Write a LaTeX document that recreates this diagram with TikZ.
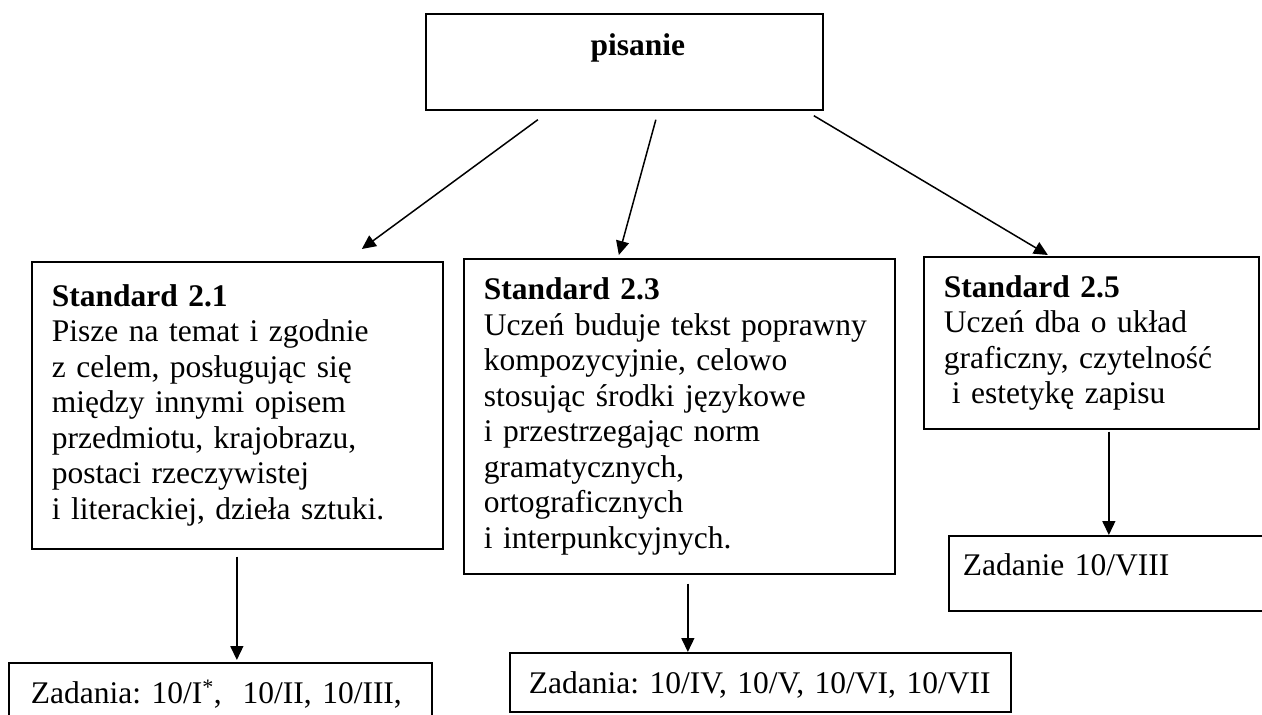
\documentclass[tikz,border=0pt]{standalone}
\usepackage{fontspec}
\setmainfont{Liberation Serif}
\usetikzlibrary{arrows.meta}
\frenchspacing
\begin{document}
\begin{tikzpicture}[x=1pt,y=-1pt,
  box/.style={draw, line width=1.7pt, anchor=north west, inner ysep=0pt, inner xsep=0pt, align=left,
    font=\fontsize{31.5}{35.5}\selectfont},
  arr/.style={line width=1.5pt, -{Triangle[length=14pt,width=13pt]}}]
\useasboundingbox (0,0) rectangle (1262,715);
\clip (0,0) rectangle (1262,715);
\node[box, minimum width=397pt, minimum height=96pt, text width=397pt, align=center, text height=42pt, text depth=54pt] (top) at (425,13) {\hspace*{27pt}\textbf{pisanie}};
\node[box, minimum width=411pt, minimum height=287pt, inner xsep=20pt, text width=371pt] (b1) at (31,261)
  {\textbf{Standard 2.1}\\Pisze na temat i zgodnie\\z celem, posługując się\\między innymi opisem\\przedmiotu, krajobrazu,\\postaci rzeczywistej\\i literackiej, dzieła sztuki.};
\node[box, minimum width=431pt, minimum height=315pt, inner xsep=20pt, text width=391pt] (b2) at (463,258)
  {\textbf{Standard 2.3}\\Uczeń buduje tekst poprawny\\kompozycyjnie, celowo\\stosując środki językowe\\i przestrzegając norm\\gramatycznych,\\ortograficznych\\i interpunkcyjnych.};
\node[box, minimum width=335pt, minimum height=172pt, inner xsep=20pt, text width=295pt] (b3) at (923,256)
  {\textbf{Standard 2.5}\\Uczeń dba o układ\\graficzny, czytelność\\\hspace*{8pt}i estetykę zapisu};
\node[box, minimum width=423pt, minimum height=80pt, text width=423pt, text height=41pt, text depth=39pt] (z1) at (8,662)
  {\hspace*{22pt}Zadania: 10/I\textsuperscript{*},\ \ 10/II, 10/III,};
\node[box, minimum width=501pt, minimum height=59pt, text width=501pt, text height=41pt, text depth=18pt] (z2) at (509,652)
  {\hspace*{19pt}Zadania: 10/IV, 10/V, 10/VI, 10/VII};
\node[box, minimum width=340pt, minimum height=75pt, text width=340pt, text height=40pt, text depth=35pt] (z3) at (948,535)
  {\hspace*{14pt}Zadanie 10/VIII};
\draw[arr] ([shift={(-86.5,9)}]top.south) -- ([shift={(124.5,-12)}]b1.north);
\draw[arr] ([shift={(31.5,9)}]top.south) -- ([shift={(-60.5,-3)}]b2.north);
\draw[arr] ([shift={(189.5,5)}]top.south) -- ([shift={(-43.5,-1)}]b3.north);
\draw[arr] ([shift={(-0.5,7)}]b1.south) -- ([shift={(16.5,-2)}]z1.north);
\draw[arr] ([shift={(8.5,9)}]b2.south) -- ([shift={(-72.5,0)}]z2.north);
\draw[arr] ([shift={(17.5,2)}]b3.south) -- ([shift={(-10,0)}]z3.north);
\end{tikzpicture}
\end{document}
